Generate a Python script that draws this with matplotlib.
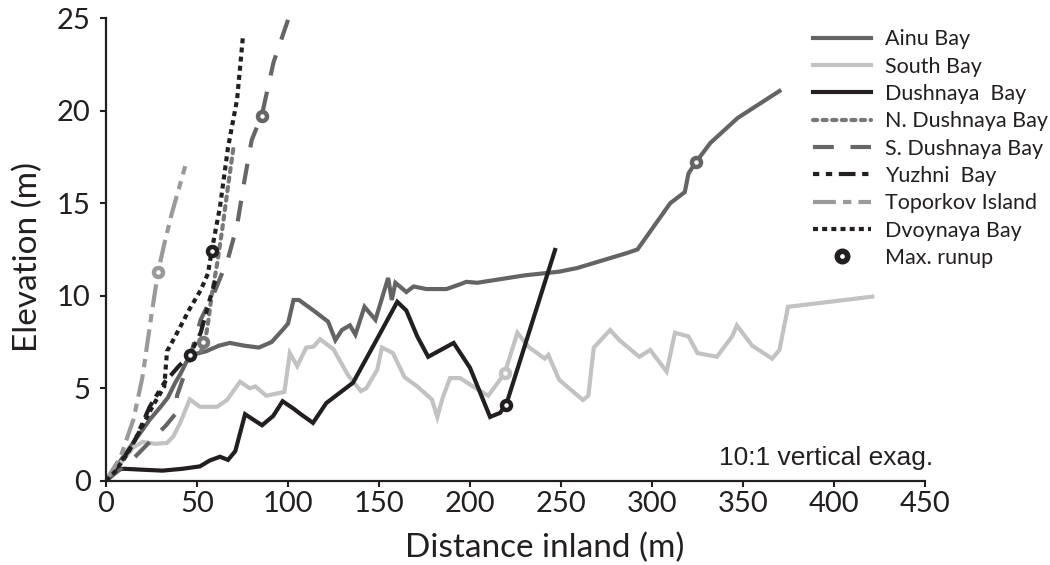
import matplotlib
matplotlib.use('Agg')
import matplotlib.pyplot as plt
from matplotlib.lines import Line2D

# Profile data (distance inland m, elevation m)
ainuX = [0, 8, 16, 24, 30, 34, 38, 41, 44, 47, 51, 55, 62, 68, 76, 84, 91, 97, 100, 103, 106,
         114, 122, 126, 129.6, 134, 137, 142, 148, 155, 157, 159, 165, 169, 176, 187, 194, 198,
         204, 230, 249, 259, 286, 292, 310, 318, 320, 324, 332, 347, 370]
ainuY = [0, 1.1, 2.2, 3.3, 4.0, 4.5, 5.3, 5.8, 6.4, 6.8, 6.9, 7.0, 7.3, 7.45, 7.3, 7.2, 7.5, 8.15,
         8.5, 9.77, 9.77, 9.2, 8.6, 7.6, 8.15, 8.4, 7.9, 9.4, 8.7, 10.96, 9.77, 10.7, 10.2, 10.5,
         10.36, 10.36, 10.6, 10.75, 10.7, 11.1, 11.3, 11.5, 12.3, 12.5, 15.0, 15.6, 16.6, 17.2,
         18.25, 19.6, 21.06]

southX = [0, 10, 15, 20, 27, 33.5, 37, 40.6, 46, 51.6, 61, 66.5, 73.6, 79, 82, 88, 98, 101, 105,
          110, 114, 117.6, 125, 133, 140, 143, 149, 151.6, 157.6, 164, 171, 179, 182, 185, 189,
          194.5, 201.6, 210, 219, 226, 232, 241, 243, 249, 262, 265, 268, 277, 282, 293, 299,
          308, 312.6, 320, 325, 335.6, 344, 346.6, 355, 366, 370, 374.7, 421]
southY = [0, 1.2, 1.8, 2.1, 2.0, 2.05, 2.4, 3.1, 4.4, 4.0, 4.0, 4.37, 5.35, 5.0, 5.1, 4.6, 4.8, 6.9,
          6.2, 7.2, 7.25, 7.65, 7.1, 5.7, 4.85, 5.0, 6.0, 7.2, 6.9, 5.6, 5.1, 4.4, 3.45, 4.5, 5.55,
          5.55, 5.1, 4.6, 5.8, 8.0, 7.25, 6.6, 6.8, 5.45, 4.37, 4.6, 7.2, 8.15, 7.6, 6.7, 7.07,
          5.9, 8.0, 7.8, 6.9, 6.7, 7.8, 8.4, 7.3, 6.6, 7.07, 9.4, 9.95]

dushX = [0, 4, 10, 20, 31, 42, 51.6, 57, 62.6, 67, 71, 76.4, 81, 85.7, 91.8, 97, 103, 107, 113.7,
         121, 135.7, 148, 160, 165, 171, 177, 191, 200, 211, 216.5, 220, 246.7]
dushY = [0, 0.6, 0.65, 0.6, 0.55, 0.65, 0.78, 1.1, 1.3, 1.13, 1.6, 3.6, 3.3, 3.0, 3.5, 4.3, 3.9,
         3.6, 3.13, 4.2, 5.3, 7.5, 9.67, 9.2, 7.8, 6.7, 7.45, 6.1, 3.45, 3.67, 4.16, 12.47]

nDushX = [52, 54, 56, 58, 61, 64, 67, 70]
nDushY = [7.0, 7.3, 8.5, 10.0, 11.7, 13.7, 15.9, 18.0]

sDushX = [0, 15, 25, 33, 38, 39, 45, 52, 60, 67, 72, 76, 80, 85.7, 92, 101]
sDushY = [0, 1.2, 2.2, 3.0, 3.6, 4.6, 6.3, 8.7, 10.3, 12.0, 13.8, 16.2, 18.4, 19.8, 22.6, 25.2]

yuzhX = [0, 8, 15, 24, 32, 40, 46, 52, 57, 60]
yuzhY = [0, 1.0, 2.0, 4.0, 5.3, 6.2, 6.8, 8.0, 9.8, 10.8]

topX = [0, 8, 15, 20, 25, 28.6, 32, 36, 43.5]
topY = [0, 1.3, 3.3, 5.6, 9.0, 11.3, 12.8, 14.4, 17.0]

dvoyX = [0, 5, 12, 18, 26, 32, 33.5, 38, 46, 52, 56, 58, 62.6, 67, 72, 75.3]
dvoyY = [0, 0.5, 1.5, 2.6, 4.1, 5.1, 7.0, 7.8, 9.3, 10.3, 11.2, 12.4, 14.8, 18, 20.6, 24.1]

# max runup point of each profile, same order as the profiles below
runupX = [324, 219, 220, 53.3, 85.7, 46, 28.6, 58]
runupY = [17.2, 5.8, 4.1, 7.5, 19.7, 6.8, 11.3, 12.4]

labels = ['Ainu Bay', 'South Bay', 'Dushnaya  Bay', 'N. Dushnaya Bay', 'S. Dushnaya Bay',
          'Yuzhni  Bay', 'Toporkov Island', 'Dvoynaya Bay']

plt.rcParams['font.family'] = 'Lato'

black = '#231f20'
profiles = [
    (ainuX, ainuY, '#646464', None, 'round'),
    (southX, southY, '#c2c2c2', None, 'round'),
    (dushX, dushY, black, None, 'round'),
    (nDushX, nDushY, '#787878', (1.0, 1.3), 'round'),
    (sDushX, sDushY, '#666666', (5, 4), 'butt'),
    (yuzhX, yuzhY, black, (1.5, 1.6, 1.5, 1.6, 4, 1.6), 'butt'),
    (topX, topY, '#9a9a9a', (5.5, 1.7, 2, 1.7), 'butt'),
    (dvoyX, dvoyY, black, (1.2, 1.0), 'butt'),
]

fig = plt.figure(figsize=(10.5, 5.65), dpi=100)
ax = fig.add_axes([0.101, 0.149, 0.780, 0.819])

handles = []
for i, (x, y, color, dashes, cap) in enumerate(profiles):
    line, = ax.plot(x, y, color=color, lw=3.0, solid_joinstyle='miter',
                    dash_capstyle=cap, label=labels[i])
    if dashes is not None:
        line.set_dashes(dashes)
    handles.append(line)
    # runup marker in the line colour
    ax.plot(runupX[i], runupY[i], 'o', ms=6.5, mew=3.2, mfc='white', mec=color, zorder=5)

handles.append(Line2D([], [], ls='none', marker='o', ms=7.5, mew=4, mfc='white', mec=black))
allLabels = labels + ['Max. runup']

ax.set_xlim(0, 450)
ax.set_ylim(0, 25)
ax.set_xticks(range(0, 451, 50))
ax.set_yticks(range(0, 26, 5))

for side in ['top', 'right']:
    ax.spines[side].set_visible(False)
for side in ['left', 'bottom']:
    ax.spines[side].set_linewidth(1.6)
    ax.spines[side].set_color(black)

ax.tick_params(direction='out', length=4, width=1.5, colors=black, labelsize=21)
ax.tick_params(axis='y', pad=7)
ax.tick_params(axis='x', pad=3)

ax.set_xlabel('Distance inland (m)', fontsize=24, color=black)
ax.set_ylabel('Elevation (m)', fontsize=24, color=black)
# label positions as placed in the original figure
ax.xaxis.set_label_coords(0.535, -0.112)
ax.yaxis.set_label_coords(-0.077, 0.484)

fig.text(0.8886, 0.177, '10:1 vertical exag.', family='Liberation Sans', fontsize=19,
         color=black, ha='right', va='baseline')

leg = fig.legend(handles, allLabels, loc='upper left', bbox_to_anchor=(0.774, 0.948),
                 frameon=False, fontsize=15.5, handlelength=2.7, handletextpad=0.68,
                 labelspacing=0.34, borderpad=0, borderaxespad=0)
for t in leg.get_texts():
    t.set_color(black)

plt.savefig('out.png', dpi=100)
